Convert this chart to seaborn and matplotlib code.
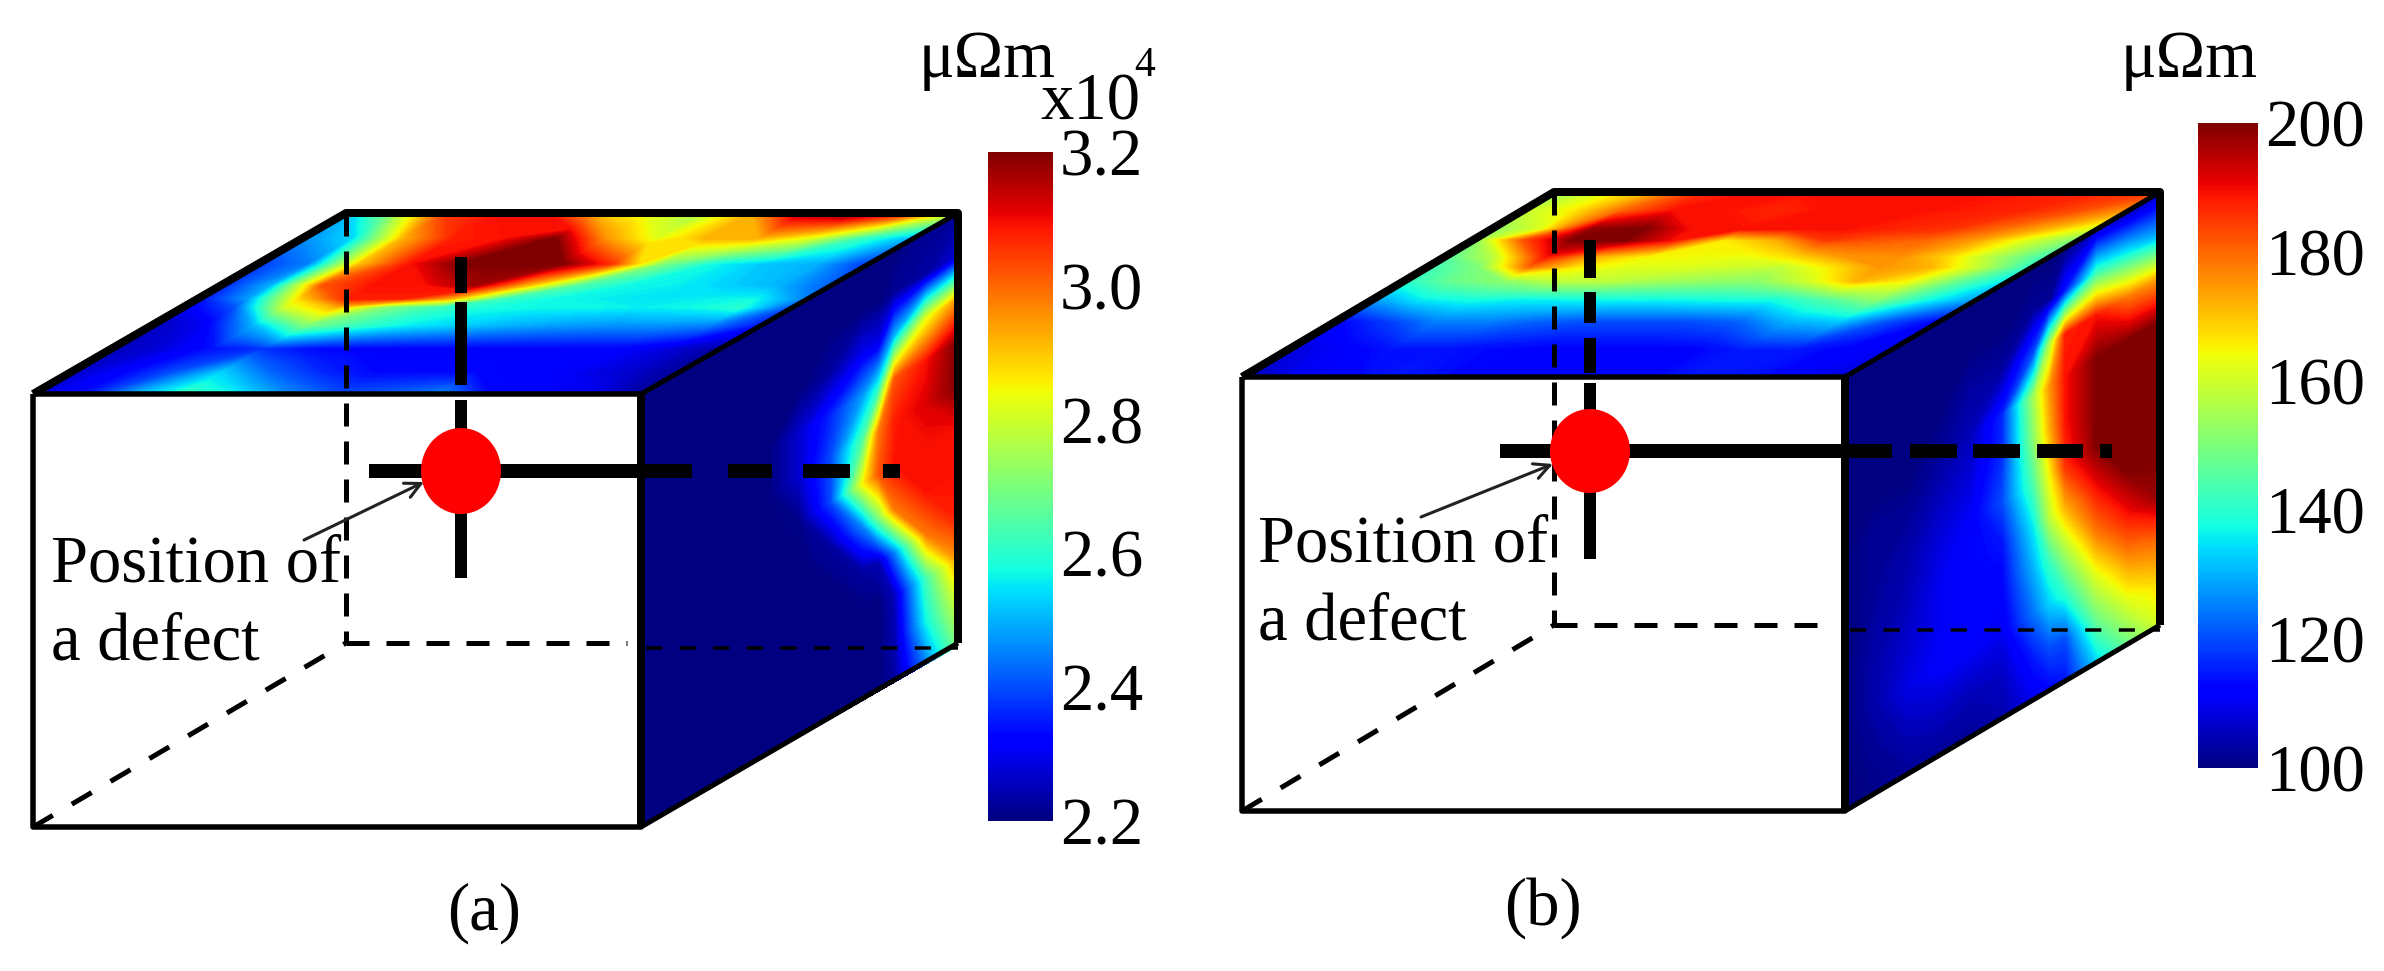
import numpy as np
import matplotlib
matplotlib.use("Agg")
import matplotlib.pyplot as plt
from matplotlib.cm import ScalarMappable
from matplotlib.colors import Normalize
from matplotlib.patches import Ellipse
import seaborn as sns

# scale ends of the two colour bars
scale_a = (2.2, 3.2)
scale_b = (100, 200)
ticks_a = [2.2, 2.4, 2.6, 2.8, 3.0, 3.2]
ticks_b = [100, 120, 140, 160, 180, 200]
labels_a = ["2.2", "2.4", "2.6", "2.8", "3.0", "3.2"]
labels_b = ["100", "120", "140", "160", "180", "200"]
unit = "\u03bc\u03a9m"
defect_text = "Position of\na defect"

# all face values are read as the position on the colour bar (0 bottom, 1 top)
# top face (a): rows front to back, columns left to right
top_a_depth = [0, .12, .25, .38, .48, .527, .6, .72, .86, 1]
top_a = [
    [.08, .14, .30, .42, .36, .26, .20, .22, .26, .13, .12, .10, .02],
    [.06, .12, .20, .33, .22, .16, .13, .13, .13, .12, .10, .07, .02],
    [.05, .08, .14, .17, .13, .12, .12, .12, .12, .12, .12, .08, .03],
    [.05, .10, .30, .50, .42, .36, .33, .30, .28, .27, .27, .25, .14],
    [.10, .20, .60, .72, .50, .42, .38, .37, .37, .36, .37, .40, .20],
    [.13, .28, .68, .88, .88, .72, .42, .37, .36, .35, .36, .37, .25],
    [.15, .30, .82, .89, .89, .97, .72, .45, .37, .36, .33, .30, .22],
    [.18, .25, .70, .89, 1.0, 1.0, 1.0, .85, .50, .37, .32, .30, .18],
    [.26, .34, .72, .88, .89, 1.0, .75, .62, .72, .72, .62, .42, .30],
    [.30, .55, .85, .89, .89, .70, .62, .55, .72, .95, 1.0, .90, .62],
]
# right face (a): one list per depth step, top to bottom
side_a_depth = [0, .1, .2, .3, .4, .5, .6, .7, .75, .8, .9, 1]
side_a_cols = [
    [0, 0, 0, 0, 0, 0, 0, 0, 0, 0, 0],
    [0, 0, 0, 0, 0, 0, 0, 0, 0, 0, 0],
    [0, 0, 0, 0, 0, 0, 0, 0, 0, 0, 0],
    [0, 0, 0, 0, 0, 0, 0, 0, 0, 0, 0],
    [0, 0, 0, 0, 0, 0, 0, 0, 0, 0, 0],
    [0, 0, 0, .07, .07, .01, 0, 0, 0, 0, 0],
    [0, 0, .03, .16, .20, .20, .03, 0, 0, 0, 0],
    [0, 0, .10, .28, .45, .65, .25, .03, 0, 0, 0],
    [0, 0, .10, .40, .78, .82, .50, .05, 0, 0, 0],
    [0, .02, .30, .82, .88, .89, .78, .25, .05, .04, .03],
    [.02, .03, .62, .89, .92, .89, .89, .78, .43, .37, .25],
    [.02, .08, .75, 1.0, 1.0, .89, .89, .88, .75, .60, .50],
]

top_b_depth = [0, .15, .3, .42, .52, .595, .65, .74, .8, .9, 1]
top_b = [
    [.05, .10, .12, .15, .13, .12, .12, .12, .12, .15, .14, .11, .08],
    [.08, .11, .14, .14, .13, .12, .12, .12, .12, .15, .15, .12, .10],
    [.12, .18, .25, .25, .22, .20, .20, .20, .22, .30, .32, .20, .12],
    [.28, .36, .38, .36, .37, .37, .37, .38, .38, .45, .52, .38, .28],
    [.40, .48, .52, .58, .58, .55, .53, .52, .60, .72, .65, .48, .35],
    [.42, .50, .80, .66, .62, .62, .60, .58, .66, .75, .72, .58, .40],
    [.45, .58, .89, .72, .65, .64, .63, .68, .75, .76, .68, .55, .42],
    [.50, .82, 1.0, 1.0, .89, .66, .72, .85, .82, .80, .74, .62, .50],
    [.52, .62, .98, 1.0, .89, .89, .89, .89, .87, .86, .80, .72, .60],
    [.58, .66, .80, .89, .89, .87, .89, .89, .89, .88, .87, .83, .75],
    [.50, .62, .72, .86, .89, .89, .89, .89, .89, .89, .88, .87, .85],
]
side_b_depth = [0, .1, .2, .3, .4, .5, .6, .65, .7, .8, .9, 1]
side_b_cols = [
    [0, 0, 0, 0, 0, 0, 0, 0, 0, 0, 0],
    [0, 0, 0, 0, .02, .02, .03, .04, .04, .02, .01],
    [0, 0, 0, 0, .02, .04, .05, .07, .09, .05, .02],
    [0, 0, 0, .02, .05, .08, .10, .10, .11, .06, .02],
    [0, 0, .03, .05, .08, .11, .12, .12, .11, .05, .02],
    [0, 0, .03, .16, .17, .20, .14, .12, .10, .06, .04],
    [0, .02, .20, .55, .52, .45, .36, .30, .24, .15, .10],
    [0, .02, .55, .75, .72, .65, .58, .42, .33, .20, .12],
    [0, .15, .88, .89, .89, .86, .72, .55, .40, .20, .14],
    [.05, .42, .89, 1.0, 1.0, 1.0, .89, .78, .62, .48, .33],
    [.03, .37, .78, 1.0, 1.0, 1.0, 1.0, .89, .76, .62, .48],
    [.05, .30, .74, 1.0, 1.0, 1.0, 1.0, .98, .80, .68, .60],
]

sns.set_theme(style="white")
plt.rcParams["font.family"] = ["Liberation Serif", "DejaVu Sans"]
jet = plt.get_cmap("jet")

W, H = 2384, 971
fig = plt.figure(figsize=(W / 100, H / 100), dpi=100)
ax = fig.add_axes([0, 0, 1, 1])
ax.set_axis_off()


def line(xs, ys, px, dash=None, color="black", z=3):
    kws = {"linestyle": (0, dash)} if dash else {}
    sns.lineplot(x=xs, y=ys, ax=ax, color=color, lw=px * 0.72, sort=False,
                 estimator=None, zorder=z, solid_capstyle="butt",
                 dash_capstyle="butt", **kws)


def draw_box(box, top, top_depth, side_cols, side_depth, scale):
    x0, x1, bx0, bx1 = box["x0"], box["x1"], box["bx0"], box["bx1"]
    y0, y1, by0, by1 = box["y0"], box["y1"], box["by0"], box["by1"]
    lo, hi = scale
    levels = np.linspace(lo, hi, 200)

    # top face
    top = lo + np.array(top) * (hi - lo)
    u, v = np.meshgrid(np.linspace(0, 1, top.shape[1]), top_depth)
    ax.contourf(x0 + u * (x1 - x0) + v * (bx0 - x0), y0 + v * (by0 - y0), top,
                levels=levels, cmap=jet, extend="both", zorder=1)

    # right face
    side = lo + np.array(side_cols).T * (hi - lo)
    d, h = np.meshgrid(side_depth, np.linspace(0, 1, side.shape[0]))
    ax.contourf(x1 + d * (bx1 - x1), y0 + d * (by0 - y0) + h * (y1 - y0), side,
                levels=levels, cmap=jet, extend="both", zorder=1)

    # hidden edges
    line([x0, bx0], [y1, by1], 5, dash=(4.6, 4.4), z=2)
    line([bx0, bx0], [by0, by1], 5, dash=(4.6, 3), z=2)
    line([bx0, x1 - 14], [by1, by1], 5, dash=(4.6, 3.4), z=2)
    line([x1 + 5, bx1], [by1 + 5, by1 + 5], 3.5, dash=(4.6, 5), z=2)

    # visible edges
    line([x0, x0, x1, x1, x0], [y0, y1, y1, y0, y0], 5.5)
    line([x1, x1], [y0, y1], 8)
    line([x0, bx0, bx1, bx1], [y0, by0, by0, by1], 8)
    line([x1, bx1], [y0, by0], 5)
    line([x1, bx1], [y1, by1], 5)


def draw_defect(cx, cy, hx0, hsegs, vsegs, vbottom, r, arrow, x1):
    line([hx0, x1], [cy, cy], 14)
    for a, b in hsegs:
        line([a, b], [cy, cy], 14)
    for a, b in vsegs:
        line([cx, cx], [a, b], 12)
    line([cx, cx], [cy, vbottom], 12)
    ax.add_patch(Ellipse((cx, cy), r[0] * 2, r[1] * 2, color="#ff0000", lw=0, zorder=4))
    ax.annotate("", xy=arrow[1], xytext=arrow[0], zorder=5,
                arrowprops=dict(arrowstyle="->", color="#222222", lw=2.2, shrinkA=0, shrinkB=0,
                                mutation_scale=28))


def draw_bar(rect, scale, ticks, labels):
    left, top, right, bottom = rect
    cax = fig.add_axes([left / W, 1 - bottom / H, (right - left) / W, (bottom - top) / H])
    cb = fig.colorbar(ScalarMappable(Normalize(*scale), jet), cax=cax, ticks=ticks)
    cb.ax.set_yticklabels(labels)
    cb.ax.tick_params(length=0, pad=5, labelsize=48, labelcolor="black")
    cb.outline.set_visible(False)


box_a = dict(x0=33, x1=641, bx0=346, bx1=958, y0=394, y1=827, by0=213, by1=643)
box_b = dict(x0=1242, x1=1845, bx0=1554, bx1=2160, y0=377, y1=811, by0=192, by1=625)

draw_box(box_a, top_a, top_a_depth, side_a_cols, side_a_depth, scale_a)
draw_box(box_b, top_b, top_b_depth, side_b_cols, side_b_depth, scale_b)

draw_defect(461, 471, 369, [(642, 692), (728, 772), (803, 850), (883, 900)],
            [(257, 293), (302, 385), (400, 471)], 578, (40, 43), ((304, 540), (424, 482)), 640)
draw_defect(1590, 451, 1500, [(1843, 1892), (1910, 1957), (1973, 2020), (2037, 2083), (2100, 2112)],
            [(240, 278), (292, 323), (338, 373), (383, 451)], 559, (40, 42), ((1421, 517), (1553, 464)), 1844)

draw_bar((988, 152, 1053, 821), scale_a, ticks_a, labels_a)
draw_bar((2198, 123, 2258, 768), scale_b, ticks_b, labels_b)

ax.set_xlim(0, W)
ax.set_ylim(H, 0)

text_kw = dict(fontsize=48, color="black", zorder=6)
ax.text(51, 582, defect_text.split("\n")[0], va="baseline", **text_kw)
ax.text(51, 660, defect_text.split("\n")[1], va="baseline", **text_kw)
ax.text(1258, 562, defect_text.split("\n")[0], va="baseline", **text_kw)
ax.text(1258, 640, defect_text.split("\n")[1], va="baseline", **text_kw)
ax.text(484, 913, "(a)", ha="center", va="center", **text_kw)
ax.text(1543, 908, "(b)", ha="center", va="center", **text_kw)
ax.text(919, 77, unit, va="baseline", **text_kw)
ax.text(2121, 77, unit, va="baseline", **text_kw)
ax.text(1040, 120, "x10", va="baseline", **text_kw)
ax.text(1134, 76, "4", va="baseline", fontsize=30, color="black", zorder=6)

fig.savefig("out.png", dpi=100, facecolor="white")
